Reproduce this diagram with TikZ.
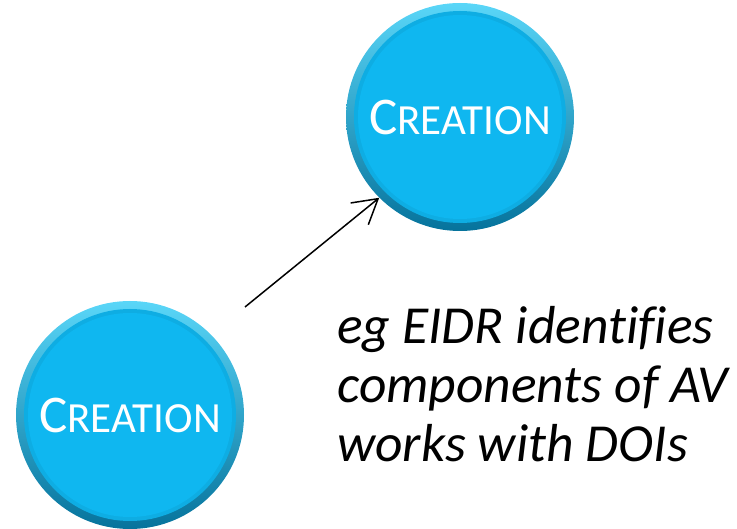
\documentclass[tikz,border=0pt]{standalone}
\usepackage{fontspec}
\setmainfont{Carlito}
\usetikzlibrary{arrows.meta}
\definecolor{cyanmid}{HTML}{0FB7F0}
\definecolor{cyanlt}{HTML}{5AD6F8}
\definecolor{cyandk}{HTML}{06739C}
\newcommand{\creatxt}{{\fontsize{53}{53}\selectfont C}{\fontsize{43}{43}\selectfont REATION}}

\begin{document}
\begin{tikzpicture}[x=1pt,y=-1pt,
  creation/.style={circle,minimum size=228pt,inner sep=0pt,text=white,
    top color=cyanlt,bottom color=cyandk,
    path picture={
      \fill[cyanmid!85!cyandk] (path picture bounding box.center) circle (106pt);
      \fill[cyanmid] (path picture bounding box.center) circle (102pt);
    }}]
  \useasboundingbox (0,0) rectangle (737,529);
  \node[creation](top) at (460,117){\creatxt};
  \node[creation](bottom) at (130,415){\creatxt};
  \coordinate (start) at (245,307);
  \draw[line width=1.5pt,-{Straight Barb[length=24pt,width=28pt,line width=1.5pt]}] (start) -- (top.225);
  \node[anchor=base west,align=left,inner sep=0pt,
    font=\fontsize{53.5}{59.5}\selectfont\itshape\addfontfeature{Ligatures=NoCommon}](note) at (337,462)
    {eg EIDR identifies\\components of AV\\works with DOIs};
\end{tikzpicture}
\end{document}
